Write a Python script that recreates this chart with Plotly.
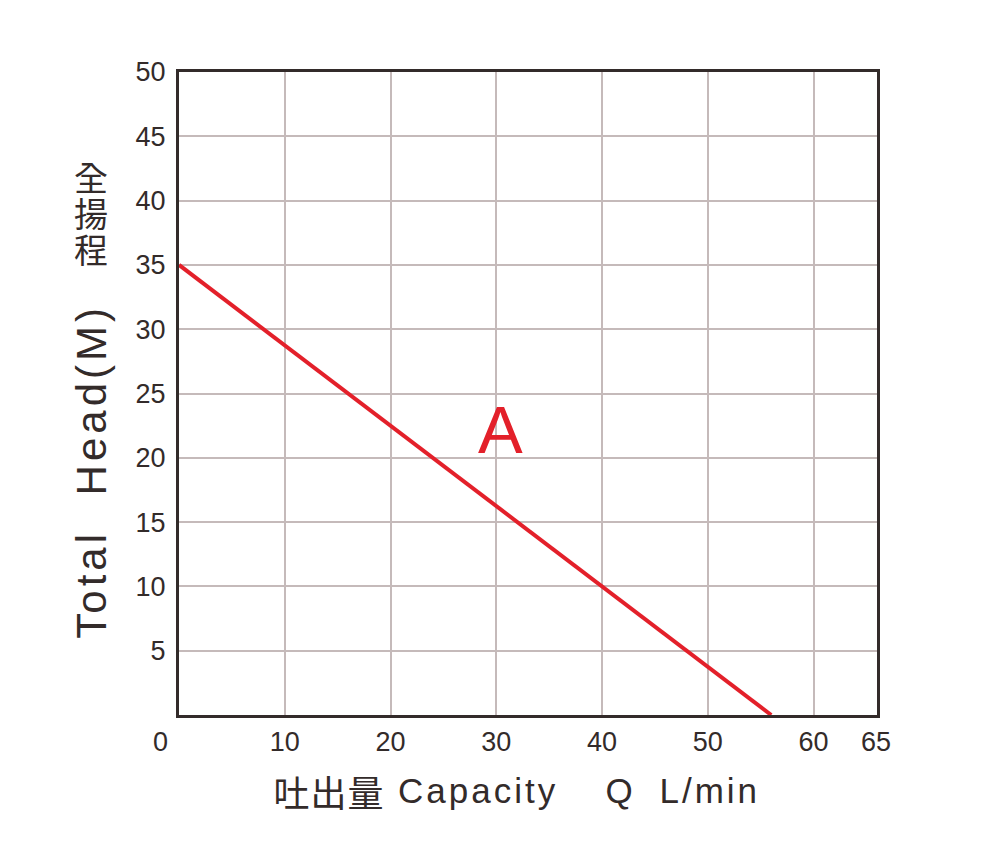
import plotly.graph_objects as go

# ---- data ----
capacity_q = [0, 40, 56]          # L/min
total_head = [35, 10, 0]          # m
curve_name = "A"
curve_label_pos = (30.4, 22.2)

x_tick_vals = [10, 20, 30, 40, 50, 60]
x_tick_text = ["10", "20", "30", "40", "50", "60"]
x_edge_labels = [(0, "0"), (66, "65")]
y_tick_vals = [5, 10, 15, 20, 25, 30, 35, 40, 45, 50]
y_tick_text = ["5", "10", "15", "20", "25", "30", "35", "40", "45", "50"]

x_range = [0, 66]
y_range = [0, 50]

RED = "#e3202a"
DARK = "#332b2a"
GRID = "#c5baba"
LATIN = "Liberation Sans, Arial, sans-serif"
CJK = "Noto Sans CJK TC, Noto Sans CJK SC, sans-serif"

# plot-area geometry in page pixels (page has 8px body margin)
PX0, PX1, PY0, PY1 = 179.5, 876.5, 72.5, 714.5
def px(xp):
    return (xp - PX0) / (PX1 - PX0)
def py(yp):
    return (PY1 - yp) / (PY1 - PY0)

fig = go.Figure()
fig.add_trace(go.Scatter(
    x=capacity_q, y=total_head, mode="lines",
    line=dict(color=RED, width=4), showlegend=False, hoverinfo="skip"))

annotations = []
letter_spacing = {}
line_pitch = {}

def add_ann(spacing=None, pitch=None, **kw):
    if spacing:
        letter_spacing[len(annotations)] = spacing
    if pitch:
        line_pitch[len(annotations)] = pitch
    annotations.append(kw)

# y-axis title pieces (rotated latin, upright CJK)
add_ann(spacing=4, text="Total", xref="paper", yref="paper", x=px(92), y=py(584),
        textangle=-90, showarrow=False, font=dict(family=LATIN, size=42, color=DARK),
        xanchor="center", yanchor="middle")
add_ann(spacing=4, text="Head(M)", xref="paper", yref="paper", x=px(92), y=py(400),
        textangle=-90, showarrow=False, font=dict(family=LATIN, size=42, color=DARK),
        xanchor="center", yanchor="middle")
CJK_Y = 34
add_ann(pitch=36, text="全<br>揚<br>程", xref="paper", yref="paper", x=px(92),
        y=py(177 + 1.3 * CJK_Y), showarrow=False,
        font=dict(family=CJK, size=CJK_Y, color=DARK), xanchor="center", yanchor="middle")

# x-axis title pieces
XT_Y = 790
add_ann(spacing=1, text="吐出量", xref="paper", yref="paper", x=px(329), y=py(XT_Y),
        showarrow=False, font=dict(family=CJK, size=36, color=DARK), xanchor="center", yanchor="middle")
add_ann(spacing=3, text="Capacity", xref="paper", yref="paper", x=px(479), y=py(XT_Y),
        showarrow=False, font=dict(family=LATIN, size=35, color=DARK), xanchor="center", yanchor="middle")
add_ann(spacing=3, text="Q", xref="paper", yref="paper", x=px(620), y=py(XT_Y),
        showarrow=False, font=dict(family=LATIN, size=35, color=DARK), xanchor="center", yanchor="middle")
add_ann(spacing=3, text="L/min", xref="paper", yref="paper", x=px(710), y=py(XT_Y),
        showarrow=False, font=dict(family=LATIN, size=35, color=DARK), xanchor="center", yanchor="middle")

# edge x labels "0" and "65"
for (xv, txt), shift in zip(x_edge_labels, [-19, -1]):
    add_ann(text=txt, xref="x", yref="paper", x=xv, y=py(741), xshift=shift,
            showarrow=False, font=dict(family=LATIN, size=27, color=DARK),
            xanchor="center", yanchor="middle")

# curve label
add_ann(text=curve_name, xref="x", yref="y", x=curve_label_pos[0], y=curve_label_pos[1],
        showarrow=False, font=dict(family=LATIN, size=67, color=RED),
        xanchor="center", yanchor="middle")

fig.update_layout(
    width=998, height=864,
    margin=dict(l=171, r=129, t=64, b=157),
    paper_bgcolor="white", plot_bgcolor="white",
    annotations=annotations,
    xaxis=dict(range=x_range, tickvals=x_tick_vals, ticktext=x_tick_text,
               showgrid=True, gridcolor=GRID, gridwidth=2, zeroline=False,
               showline=True, mirror=True, linecolor=DARK, linewidth=3,
               ticks="", ticklabelstandoff=1,
               tickfont=dict(family=LATIN, size=27, color=DARK)),
    yaxis=dict(range=y_range, tickvals=y_tick_vals, ticktext=y_tick_text,
               showgrid=True, gridcolor=GRID, gridwidth=2, zeroline=False,
               showline=True, mirror=True, linecolor=DARK, linewidth=3,
               ticks="", ticklabelstandoff=5,
               tickfont=dict(family=LATIN, size=27, color=DARK)),
)

ls_js = "{" + ",".join(f'"{k}":{v}' for k, v in letter_spacing.items()) + "}"
lp_js = "{" + ",".join(f'"{k}":{v}' for k, v in line_pitch.items()) + "}"
post = """
var gd = document.getElementById('{plot_id}');
var LS = %s;
var LP = %s;
function applyTextTweaks(){
  gd.querySelectorAll('g.annotation').forEach(function(g){
    var i = g.getAttribute('data-index');
    var t = g.querySelector('text.annotation-text');
    if (!t) return;
    if (LS[i] !== undefined) { t.style.letterSpacing = LS[i] + 'px'; }
    if (LP[i] !== undefined) {
      var lines = t.querySelectorAll('tspan.line');
      for (var k = 0; k < lines.length; k++) { lines[k].setAttribute('dy', (k * LP[i]) + 'px'); }
    }
  });
}
applyTextTweaks();
gd.on('plotly_afterplot', applyTextTweaks);
""" % (ls_js, lp_js)

fig.write_html("out.html", post_script=post)
